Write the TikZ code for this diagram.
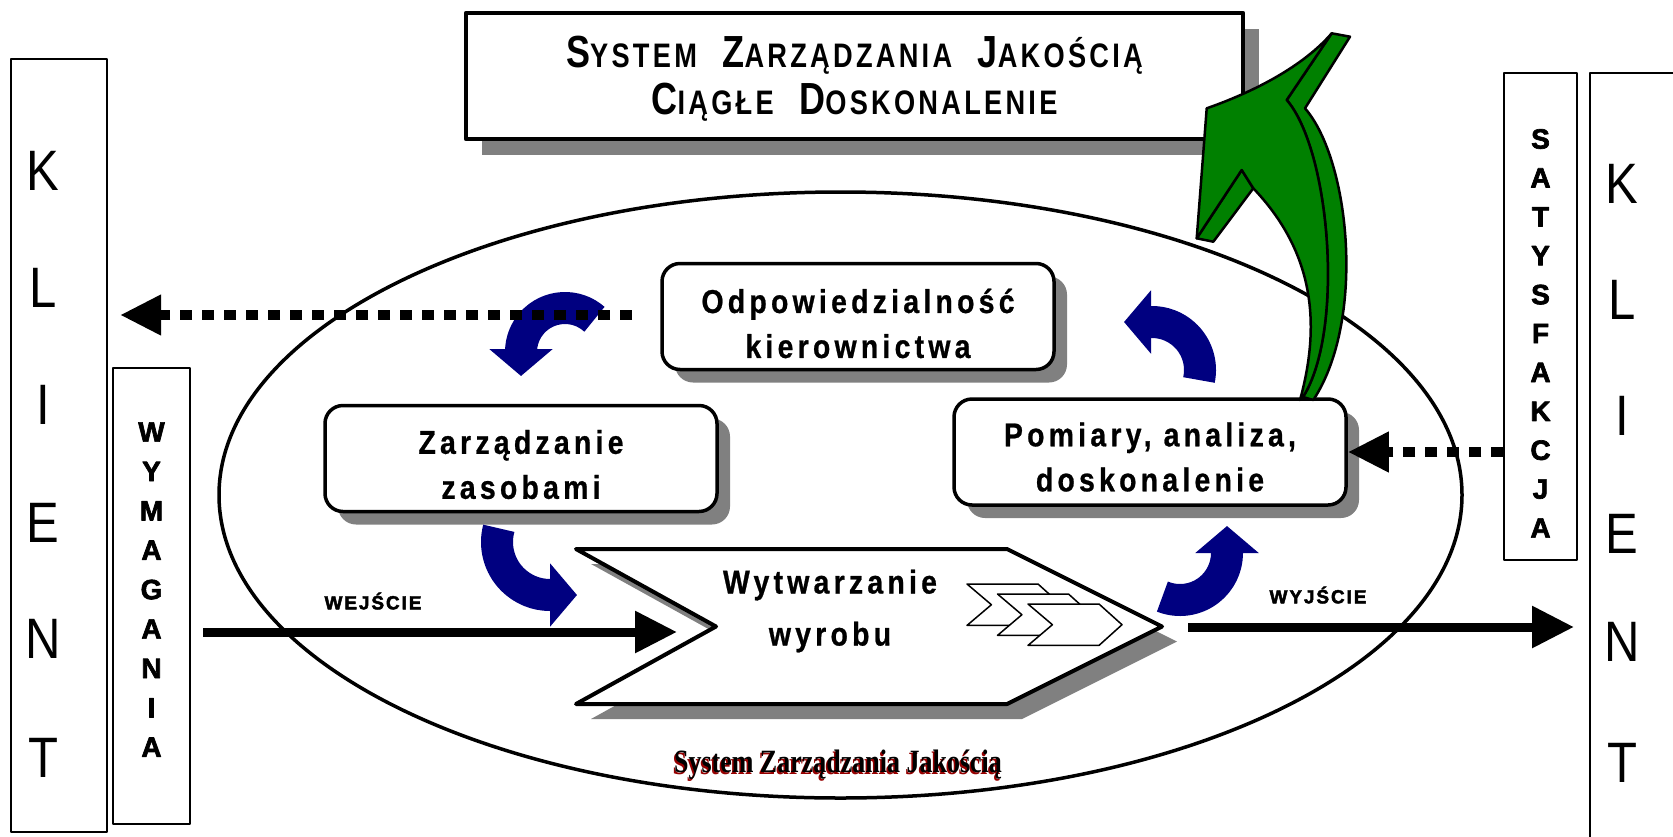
\documentclass[tikz,border=0pt]{standalone}
\usepackage{fontspec}
\usepackage{graphicx}
\setmainfont{Liberation Sans}
\newfontfamily\spacedfont{Liberation Sans}[LetterSpace=15,BoldFeatures={FakeBold=0.8}]
\newfontfamily\titlefont{Liberation Sans}[LetterSpace=12]
\newfontfamily\heavyfont{Liberation Sans}[LetterSpace=10,BoldFeatures={FakeBold=2.4}]
\newfontfamily\artfont{Liberation Serif}
\usetikzlibrary{calc,arrows.meta,shapes.geometric,shadows,positioning}
\definecolor{qmsnavy}{RGB}{0,0,128}
\definecolor{qmsgreen}{RGB}{0,128,0}
\definecolor{qmsred}{RGB}{150,0,0}
\tikzset{shade1/.style={drop shadow={shadow xshift=13pt,shadow yshift=-13pt,fill=black!50,opacity=1}},
shade2/.style={drop shadow={shadow xshift=16pt,shadow yshift=-16pt,fill=black!50,opacity=1}}}
\newcommand{\narrow}[1]{\scalebox{.86}[1]{#1}}
\newcommand{\capword}[2]{{\fontsize{45}{47}\selectfont #1}{\fontsize{34}{47}\selectfont #2}}

\begin{document}
\begin{tikzpicture}[x=1pt,y=-1pt,line join=round]

\tikzset{procbox/.style={draw,line width=3.5pt,rounded corners=18pt,fill=white,minimum width=392pt,minimum height=106pt,inner sep=0pt,shade1},
boxtext/.style={align=center,inner sep=0pt,font=\spacedfont\bfseries\fontsize{33}{45}\selectfont},
sidebox/.style={draw,line width=1.5pt,inner sep=0pt},
klientletter/.style={font=\fontsize{57}{57}\selectfont,inner sep=0pt},
sideletter/.style={font=\heavyfont\bfseries\fontsize{28}{28}\selectfont,inner sep=0pt},
dotarrow/.style={line width=10pt,dash pattern=on 12pt off 10pt,-{Triangle[width=38pt,length=41pt]}},
flowarrow/.style={line width=9pt,-{Triangle[width=40pt,length=42pt]}},
navyarrow/.style={qmsnavy,line width=32pt,-{Triangle[width=62pt,length=27pt]}},
flowlabel/.style={font=\heavyfont\bfseries\fontsize{19}{19}\selectfont,inner sep=0pt}}

\useasboundingbox (0,0) rectangle (1673,836);
\clip (0,0) rectangle (1673,836);

% Client columns
\node[sidebox,minimum width=96pt,minimum height=773pt] (klientL) at (59,445.5) {};
\node[sidebox,minimum width=120pt,minimum height=800pt] (klientR) at (1650,473) {};
\foreach \l/\y [count=\i] in {K/171,L/288,I/405,E/523,N/639,T/758} \node[klientletter] (kl\i) at (43,\y) {\narrow{\l}};
\foreach \l/\y [count=\i] in {K/184,L/300,I/416,E/534,N/642,T/763} \node[klientletter] (kr\i) at (1622,\y) {\narrow{\l}};

% System ellipse
\node[draw,ellipse,line width=3.5pt,minimum width=1243pt,minimum height=606pt,inner sep=0pt] (qms) at (840.5,495) {};

% Title
\node[draw,line width=4.5pt,fill=white,minimum width=777pt,minimum height=126pt,inner sep=0pt,shade2] (title) at (854.5,76) {};
\node[align=center,inner sep=0pt,font=\titlefont\bfseries\fontsize{45}{47}\selectfont] (titletext) at ([yshift=-3pt]title.center)
{\scalebox{.8}[1]{\capword{S}{YSTEM}\hspace{32pt}\capword{Z}{ARZĄDZANIA}\hspace{32pt}\capword{J}{AKOŚCIĄ}}\\\scalebox{.8}[1]{\capword{C}{IĄGŁE}\hspace{32pt}\capword{D}{OSKONALENIE}}};

% Process boxes
\node[procbox] (odp) at (858,316.5) {};
\node[procbox] (zas) at (521,458.5) {};
\node[procbox] (pom) at (1150,452) {};
\node[boxtext] (odptext) at ([yshift=-7pt]odp.center) {\narrow{Odpowiedzialność}\\\narrow{kierownictwa}};
\node[boxtext] (zastext) at ([yshift=-6pt]zas.center) {\narrow{Zarządzanie}\\\narrow{zasobami}};
\node[boxtext] (pomtext) at ([yshift=-5pt]pom.center) {\narrow{Pomiary, analiza,}\\\narrow{doskonalenie}};

% Product realisation
\begin{scope}[shift={(15,15)}]
\fill[black!50] (576,549) -- (1007,549) -- (1162,626.5) -- (1007,704) -- (576,704) -- (716,626.5) -- cycle;
\end{scope}
\draw[line width=4pt,fill=white] (576,549) -- (1007,549) -- (1162,626.5) -- (1007,704) -- (576,704) -- (716,626.5) -- cycle;
\node[boxtext,font=\spacedfont\bfseries\fontsize{33}{52}\selectfont] (wytw) at (830,611) {\narrow{Wytwarzanie}\\\narrow{wyrobu}};
\foreach \i in {0,1,2} \draw[line width=1.5pt,fill=white,shift={({967+30.5*\i},{584+10*\i})}] (0,0) -- (71,0) -- (94,20.7) -- (71,41.4) -- (0,41.4) -- (24.4,20.7) -- cycle;

% Cycle arrows
\draw[navyarrow] ($(565,352)+(-48:44)$) arc[start angle=-48,end angle=-180,radius=44] -- ++(0,24);
\draw[navyarrow] ($(1152,370)+(12:48)$) arc[start angle=12,end angle=-90,radius=48] -- ++(-28,0);
\draw[navyarrow] ($(550,542)+(195:53)$) arc[start angle=195,end angle=90,radius=53] -- ++(27,0);
\draw[navyarrow] ($(1180,553)+(112:47)$) arc[start angle=112,end angle=0,radius=47] -- ++(0,-27);

% Side boxes
\node[sidebox,fill=white,minimum width=77pt,minimum height=456pt] (wym) at (151.5,596) {};
\node[sidebox,fill=white,minimum width=73pt,minimum height=487pt] (sat) at (1540.5,316.5) {};
\foreach \l [count=\i] in {W,Y,M,A,G,A,N,I,A} \node[sideletter] (wym\i) at (151.5,{432+39.4*(\i-1)}) {\l};
\foreach \l [count=\i] in {S,A,T,Y,S,F,A,K,C,J,A} \node[sideletter] (sat\i) at (1540.5,{139+38.9*(\i-1)}) {\l};

% Input and output
\coordinate (wejA) at (203,632); \coordinate (wejB) at (677,632);
\coordinate (wyjA) at (1188,627); \coordinate (wyjB) at (1574,627);
\draw[flowarrow] (wejA) -- (wejB);
\draw[flowarrow] (wyjA) -- (wyjB);
\node[flowlabel] (wejlabel) at (373,601) {WEJŚCIE};
\node[flowlabel] (wyjlabel) at (1318,595) {WYJŚCIE};

% Feedback
\coordinate (odpA) at (632,315); \coordinate (klA) at (120,315);
\draw[dotarrow] (odpA) -- (klA);
\draw[dotarrow] (sat.west |- pom.east) -- (pom.east);

% Improvement arrow
\filldraw[fill=qmsgreen,line width=2.5pt] (1241.7,170) -- (1196.7,238.3) -- (1213.3,241.7) -- (1253.3,188.3) -- cycle;
\filldraw[fill=qmsgreen,line width=2.5pt] (1331.7,33.3) -- (1350,36.7) -- (1305,108.3) .. controls (1350,160) and (1366,320) .. (1313.3,400) -- (1303,397) .. controls (1345,330) and (1330,150) .. (1286.7,100) -- cycle;
\filldraw[fill=qmsgreen,line width=2.5pt] (1300,400) .. controls (1322,320) and (1312,250) .. (1253.3,188.3) -- (1241.7,170) -- (1196.7,238.3) -- (1206.7,108.3) .. controls (1245,95) and (1300,70) .. (1331.7,33.3) -- (1286.7,100) .. controls (1330,150) and (1345,330) .. (1303,397) -- cycle;

% System label
\node[inner sep=0pt,text=qmsred,font=\artfont\bfseries\fontsize{26}{26}\selectfont] (qmsshadow) at (836.5,766.5) {\scalebox{1}[1.25]{System Zarządzania Jakością}};
\node[inner sep=0pt,font=\artfont\bfseries\fontsize{26}{26}\selectfont] (qmslabel) at (838,765) {\scalebox{1}[1.25]{System Zarządzania Jakością}};

\end{tikzpicture}
\end{document}
